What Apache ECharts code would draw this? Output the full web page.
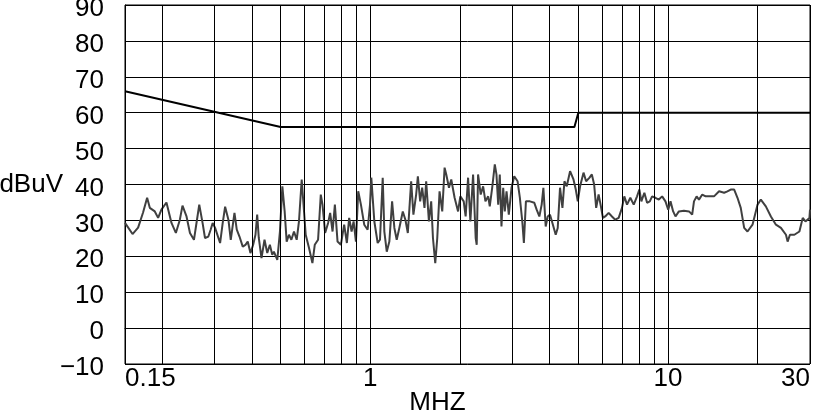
<!DOCTYPE html>
<html>
<head>
<meta charset="utf-8">
<script src="https://cdn.jsdelivr.net/npm/echarts@6/dist/echarts.min.js"></script>
<style>html,body{margin:0;padding:0;background:#fff}#c{width:817px;height:414px}</style>
</head>
<body>
<div id="c"></div>
<script>
// Measured trace (frequency in MHz, level in dBuV)
const traceFreq = [
0.15,0.159,0.166,0.1725,0.178,0.1817,0.1889,0.1938,0.1988,0.2067,
0.2149,0.2223,0.2293,0.234,0.2414,0.2479,0.2557,0.2597,0.2664,0.2733,
0.2785,0.2858,0.2909,0.2955,0.3011,0.313,0.3194,0.3254,0.3338,0.3399,
0.3498,0.3561,0.3636,0.3729,0.3808,0.3876,0.3958,0.4042,0.4115,0.417,
0.4222,0.4311,0.4413,0.4508,0.46,0.4686,0.4745,0.4872,0.4972,0.5066,
0.5157,0.5238,0.5332,0.5432,0.5543,0.566,0.5761,0.5884,0.5963,0.6069,
0.6227,0.6392,0.6509,0.6678,0.682,0.6911,0.7052,0.7218,0.7332,0.747,
0.7605,0.7763,0.7966,0.8172,0.8344,0.8494,0.8655,0.879,0.895,0.9111,
0.9303,0.9545,0.9799,0.998,1.008,1.032,1.059,1.078,1.101,1.115,
1.136,1.159,1.184,1.205,1.227,1.252,1.286,1.312,1.337,1.354,
1.372,1.396,1.426,1.445,1.471,1.494,1.521,1.541,1.574,1.602,
1.624,1.653,1.679,1.709,1.745,1.777,1.8,1.838,1.871,1.92,
1.972,2.007,2.06,2.091,2.131,2.169,2.215,2.26,2.278,2.302,
2.35,2.394,2.437,2.489,2.52,2.568,2.62,2.654,2.69,2.723,
2.759,2.796,2.831,2.869,2.92,2.982,3.045,3.125,3.181,3.241,
3.281,3.333,3.438,3.557,3.622,3.698,3.765,3.815,3.884,3.945,
4.016,4.091,4.197,4.263,4.339,4.421,4.49,4.571,4.69,4.815,
4.902,4.978,5.068,5.204,5.31,5.452,5.55,5.65,5.739,5.848,
5.953,6.047,6.155,6.32,6.484,6.652,6.83,7.007,7.134,7.285,
7.474,7.674,7.873,8.015,8.14,8.332,8.509,8.69,8.846,9.075,
9.318,9.559,9.808,10.02,10.2,10.41,10.6,10.88,11.31,11.77,
12.06,12.23,12.48,12.71,13.04,13.38,13.74,14.28,14.85,15.44,
15.84,16.25,16.69,17.12,17.56,18.03,18.5,19.23,20.0,20.51,
21.32,22.17,23.05,23.96,24.91,25.23,25.69,26.58,27.64,28.36,
28.96,29.87,30
];
const traceLevel = [
29.3,26.2,28.0,32.2,36.3,33.5,32.5,30.7,33.0,35.0,
29.3,26.5,30.2,34.1,31.1,26.5,24.6,28.3,34.4,29.3,
25.1,25.5,27.4,29.3,27.9,23.7,29.3,33.8,30.2,24.6,
32.1,27.4,25.5,22.7,23.2,24.1,20.9,23.2,26.0,31.6,
25.1,19.5,24.6,20.9,23.2,20.4,21.3,19.0,26.9,39.5,
32.5,24.1,26.0,24.6,26.9,24.6,29.7,41.4,40.9,26.0,
22.3,18.1,23.2,24.6,37.2,34.4,26.5,29.3,32.1,26.9,
34.4,24.1,23.2,28.8,23.7,30.7,26.9,29.7,24.1,38.1,
34.4,28.8,27.4,34.4,41.9,29.7,23.7,24.6,41.9,26.9,
21.3,24.1,35.3,27.9,24.6,27.9,32.5,30.2,26.5,33.5,
40.9,31.6,37.2,42.3,35.3,39.1,33.5,40.9,29.7,35.3,
25.1,18.1,25.1,38.1,32.5,44.7,42.8,39.1,41.4,36.3,
32.5,36.7,35.3,31.1,41.9,29.7,42.8,25.1,23.2,42.8,
37.2,39.5,35.3,36.7,33.9,39.1,45.6,42.8,34.4,42.8,
28.3,39.1,32.5,38.1,31.6,39.1,42.3,40.9,36.3,29.7,
23.7,35.3,35.3,34.9,33.0,31.1,34.4,39.1,28.3,31.1,
31.6,29.3,26.0,27.9,39.1,33.5,40.9,39.5,43.7,41.4,
38.6,35.3,39.5,43.3,40.9,41.9,42.8,40.0,33.5,37.2,
33.9,30.7,31.1,32.1,31.1,30.2,30.7,33.5,36.7,34.4,
36.3,34.4,36.7,38.6,35.3,37.7,34.9,35.3,36.7,36.3,
35.8,36.7,35.3,33.0,35.3,32.5,31.1,32.5,32.7,32.5,
31.6,35.3,36.7,35.8,37.2,36.7,36.7,36.7,38.1,37.7,
38.1,38.6,38.6,36.3,33.5,27.9,26.9,28.8,34.4,35.8,
33.9,31.1,28.8,27.9,26.0,24.1,26.0,26.0,26.9,30.7,
29.7,30.7,33.0
];
// Limit line
const limitFreq = [0.15, 0.5, 4.85, 5, 30];
const limitLevel = [66, 56, 56, 60, 60];
// Axis
const xTickLabels = [0.15, 1, 10, 30];
const xGridFreqs = [0.2,0.3,0.4,0.5,0.6,0.7,0.8,0.9,2,3,4,5,6,7,8,9,20];
const yMin = -10, yMax = 90, yStep = 10;

const FONT = 'Liberation Sans';
const FS = 26;
const chart = echarts.init(document.getElementById('c'), null, {renderer: 'canvas'});
const traceData = traceFreq.map((f, i) => [f, traceLevel[i]]);
const limitData = limitFreq.map((f, i) => [f, limitLevel[i]]);

chart.setOption({
  animation: false,
  backgroundColor: '#fff',
  grid: {left: 125, right: 7, top: 5, bottom: 50, show: true, borderColor: '#000', borderWidth: 1,
         containLabel: false, outerBoundsMode: 'none'},
  xAxis: {
    type: 'log', logBase: 10, min: 0.15, max: 30,
    axisLine: {show: true, lineStyle: {color: '#000', width: 1}},
    axisTick: {show: false},
    splitLine: {show: true, lineStyle: {color: '#000', width: 1}},
    axisLabel: {
      color: '#000', fontSize: FS, fontFamily: FONT, margin: 2,
      alignMinLabel: 'left', alignMaxLabel: 'right',
      formatter: function (v) {
        for (const t of xTickLabels) { if (Math.abs(Math.log10(v / t)) < 0.01) return String(t); }
        return '';
      }
    },
    name: 'MHZ', nameLocation: 'middle', nameGap: 26, nameMoveOverlap: false,
    nameTextStyle: {color: '#000', fontSize: FS, fontFamily: FONT, padding: [0, 60, 0, 0]}
  },
  yAxis: {
    type: 'value', min: yMin, max: yMax, interval: yStep,
    axisLine: {show: true, lineStyle: {color: '#000', width: 1}},
    axisTick: {show: false},
    splitLine: {show: true, lineStyle: {color: '#000', width: 1}},
    axisLabel: {
      color: '#000', fontSize: FS, fontFamily: FONT, margin: 21,
      verticalAlign: 'top', lineHeight: 8,
      formatter: v => (v < 0 ? '\u2212' + Math.abs(v) : String(v))
    },
    name: 'dBuV', nameLocation: 'middle', nameRotate: 0, nameGap: 62, nameMoveOverlap: false,
    nameTextStyle: {color: '#000', fontSize: FS, fontFamily: FONT, padding: [6, 0, 0, 0]}
  },
  series: [
    {
      type: 'line', data: [], z: 1, silent: true,
      markLine: {
        silent: true, symbol: ['none', 'none'], animation: false,
        label: {show: false},
        lineStyle: {color: '#000', width: 1, type: 'solid'},
        emphasis: {disabled: true},
        data: xGridFreqs.map(f => ({xAxis: f}))
      }
    },
    {
      type: 'line', data: limitData, z: 3, showSymbol: false, silent: true,
      lineStyle: {color: '#000', width: 2}
    },
    {
      type: 'line', data: traceData, z: 4, showSymbol: false, silent: true,
      lineStyle: {color: '#404040', width: 2}
    }
  ]
});
</script>
</body>
</html>
